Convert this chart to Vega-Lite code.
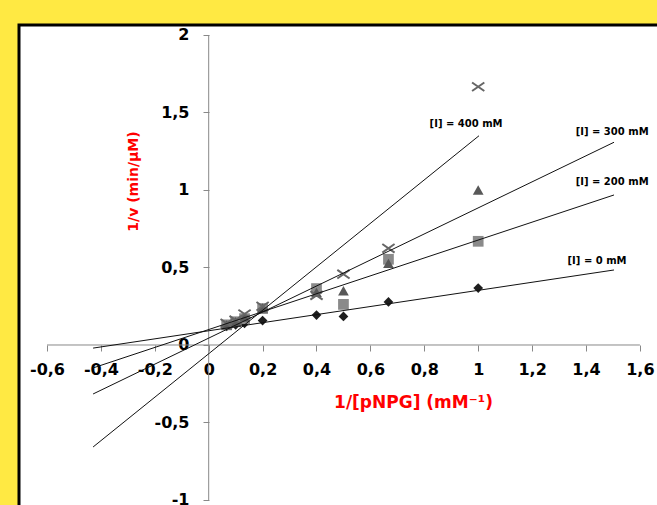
{
  "$schema": "https://vega.github.io/schema/vega-lite/v6.json",
  "width": 641,
  "height": 490,
  "autosize": "none",
  "padding": {"left": 19, "top": 25, "right": 0, "bottom": 0},
  "background": "#FFE943",
  "config": {"view": {"fill": "white", "stroke": "black", "strokeWidth": 3}},
  "datasets": {
    "axes": [
      {"x": -0.6, "y": 0, "x2": 1.6, "y2": 0},
      {"x": 0, "y": -1, "x2": 0, "y2": 2}
    ],
    "lines": [
      {"series": "0", "x": -0.429, "y": -0.02, "x2": 1.504, "y2": 0.484},
      {"series": "200", "x": -0.429, "y": -0.148, "x2": 1.504, "y2": 0.968},
      {"series": "300", "x": -0.429, "y": -0.316, "x2": 1.504, "y2": 1.308},
      {"series": "400", "x": -0.429, "y": -0.658, "x2": 1.003, "y2": 1.35}
    ],
    "points": [
      {"series": "0", "x": 1, "y": 0.367},
      {"series": "0", "x": 0.667, "y": 0.278},
      {"series": "0", "x": 0.5, "y": 0.184},
      {"series": "0", "x": 0.4, "y": 0.193},
      {"series": "0", "x": 0.2, "y": 0.158},
      {"series": "0", "x": 0.133, "y": 0.14},
      {"series": "0", "x": 0.1, "y": 0.13},
      {"series": "0", "x": 0.0667, "y": 0.12},
      {"series": "200", "x": 1, "y": 0.669},
      {"series": "200", "x": 0.667, "y": 0.553},
      {"series": "200", "x": 0.5, "y": 0.262},
      {"series": "200", "x": 0.4, "y": 0.364},
      {"series": "200", "x": 0.2, "y": 0.235},
      {"series": "200", "x": 0.133, "y": 0.17},
      {"series": "200", "x": 0.1, "y": 0.15},
      {"series": "200", "x": 0.0667, "y": 0.13},
      {"series": "300", "x": 1, "y": 1.0},
      {"series": "300", "x": 0.667, "y": 0.527},
      {"series": "300", "x": 0.5, "y": 0.35},
      {"series": "300", "x": 0.4, "y": 0.34},
      {"series": "300", "x": 0.2, "y": 0.24},
      {"series": "300", "x": 0.133, "y": 0.18},
      {"series": "300", "x": 0.1, "y": 0.15},
      {"series": "300", "x": 0.0667, "y": 0.13},
      {"series": "400", "x": 1, "y": 1.666},
      {"series": "400", "x": 0.667, "y": 0.624},
      {"series": "400", "x": 0.5, "y": 0.457},
      {"series": "400", "x": 0.4, "y": 0.32},
      {"series": "400", "x": 0.2, "y": 0.25},
      {"series": "400", "x": 0.133, "y": 0.2},
      {"series": "400", "x": 0.1, "y": 0.16},
      {"series": "400", "x": 0.0667, "y": 0.14}
    ],
    "labels": [
      {"label": "[I] = 400 mM", "x": 0.955, "y": 1.426},
      {"label": "[I] = 300 mM", "x": 1.497, "y": 1.376},
      {"label": "[I] = 200 mM", "x": 1.497, "y": 1.054},
      {"label": "[I] = 0 mM", "x": 1.441, "y": 0.542}
    ]
  },
  "encoding": {
    "x": {
      "field": "x",
      "type": "quantitative",
      "scale": {"domain": [-0.7039, 1.6746], "nice": false, "zero": false},
      "axis": {
        "values": [-0.6, -0.4, -0.2, 0, 0.2, 0.4, 0.6, 0.8, 1, 1.2, 1.4, 1.6],
        "offset": -170,
        "domain": false,
        "grid": false,
        "tickColor": "#888888",
        "tickSize": 6,
        "labelFont": "DejaVu Sans",
        "labelFontWeight": "bold",
        "labelFontSize": 16,
        "labelColor": "black",
        "labelPadding": 10,
        "labelFlush": false,
        "labelOverlap": false,
        "labelExpr": "replace(toString(datum.value), '.', ',')",
        "title": "1/[pNPG] (mM⁻¹)",
        "titleColor": "#FF0000",
        "titleFont": "DejaVu Sans",
        "titleFontWeight": "bold",
        "titleFontSize": 17,
        "titleX": 394,
        "titleY": 57,
        "titleBaseline": "middle"
      }
    },
    "y": {
      "field": "y",
      "type": "quantitative",
      "scale": {"domain": [-1.0968, 2.0645], "nice": false, "zero": false},
      "axis": {
        "values": [-1, -0.5, 0, 0.5, 1, 1.5, 2],
        "offset": -190,
        "domain": false,
        "grid": false,
        "tickColor": "#888888",
        "tickSize": 6,
        "labelFont": "DejaVu Sans",
        "labelFontWeight": "bold",
        "labelFontSize": 16,
        "labelColor": "black",
        "labelPadding": 14,
        "labelFlush": false,
        "labelOverlap": false,
        "labelExpr": "replace(toString(datum.value), '.', ',')",
        "title": "1/v (min/µM)",
        "titleColor": "#FF0000",
        "titleFont": "DejaVu Sans",
        "titleFontWeight": "bold",
        "titleFontSize": 14,
        "titleX": -76,
        "titleY": 156,
        "titleBaseline": "middle"
      }
    }
  },
  "layer": [
    {
      "data": {"name": "axes"},
      "mark": {"type": "rule", "color": "#888888", "strokeWidth": 1},
      "encoding": {"x2": {"field": "x2"}, "y2": {"field": "y2"}}
    },
    {
      "data": {"name": "points"},
      "transform": [{"filter": "datum.series == '0'"}],
      "mark": {"type": "point", "shape": "diamond", "filled": true, "opacity": 1, "color": "#1e1e1e", "size": 95}
    },
    {
      "data": {"name": "points"},
      "transform": [{"filter": "datum.series == '200'"}],
      "mark": {"type": "point", "shape": "square", "filled": true, "opacity": 1, "color": "#8a8a8a", "size": 115}
    },
    {
      "data": {"name": "points"},
      "transform": [{"filter": "datum.series == '300'"}],
      "mark": {"type": "point", "shape": "triangle-up", "filled": true, "opacity": 1, "color": "#585858", "size": 115}
    },
    {
      "data": {"name": "points"},
      "transform": [{"filter": "datum.series == '400'"}],
      "mark": {"type": "point", "shape": "M-1,-0.7L1,0.7M1,-0.7L-1,0.7", "filled": false, "opacity": 1, "color": "#666666", "strokeWidth": 2, "size": 150}
    },
    {
      "data": {"name": "lines"},
      "mark": {"type": "rule", "color": "#111111", "strokeWidth": 1},
      "encoding": {"x2": {"field": "x2"}, "y2": {"field": "y2"}}
    },
    {
      "data": {"name": "labels"},
      "mark": {"type": "text", "font": "DejaVu Sans", "fontWeight": "bold", "fontSize": 10, "color": "black", "align": "center", "baseline": "middle"},
      "encoding": {"text": {"field": "label"}}
    }
  ]
}
